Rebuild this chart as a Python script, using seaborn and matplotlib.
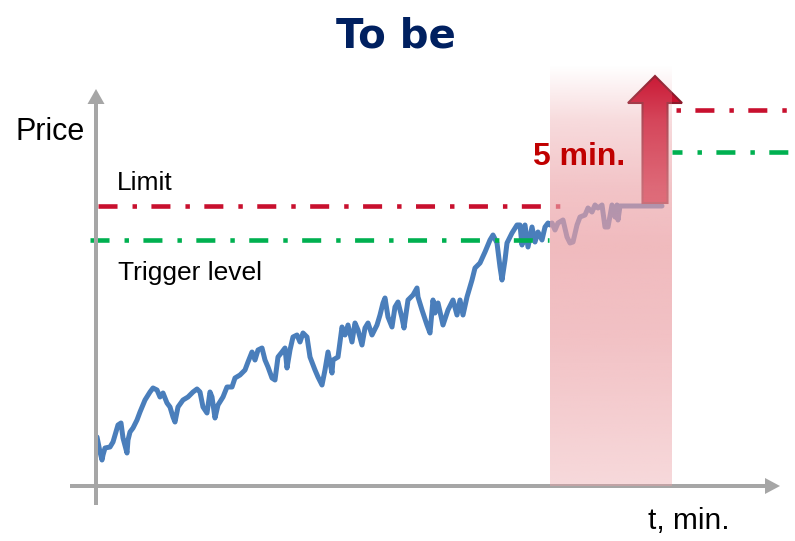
import numpy as np
import pandas as pd
import matplotlib
matplotlib.use("Agg")
import matplotlib.pyplot as plt
import seaborn as sns
from matplotlib.patches import FancyArrow

# ---- data (time in chart units, price in chart units above the time axis) ----
time_pts = [97, 100, 102, 103, 105, 110, 113, 118, 121, 123, 127, 128, 130, 133, 137, 140,
            145, 150, 153, 157, 160, 163, 167, 170, 173, 175, 178, 183, 188, 193, 197, 200,
            203, 207, 210, 212, 215, 218, 223, 227, 232, 235, 240, 245, 248, 252, 255, 258,
            262, 265, 268, 272, 275, 278, 282, 285, 287, 290, 293, 297, 300, 303, 307, 310,
            315, 318, 322, 325, 328, 332, 333, 338, 342, 345, 348, 352, 355, 358, 362, 365,
            368, 372, 377, 380, 383, 385, 388, 392, 395, 398, 402, 404, 408, 413, 417, 418,
            422, 427, 430, 433, 435, 438, 443, 448, 453, 457, 460, 463, 467, 472, 475, 480,
            485, 490, 493, 497, 500, 502, 505, 507, 512, 517, 520, 522, 525, 528, 532, 535,
            538, 542, 545, 548, 550, 552, 555, 558, 563, 567, 570, 573, 577, 580, 585, 588,
            592, 595, 598, 602, 605, 608, 612, 615, 617, 618, 620, 662]
price_pts = [49, 34, 26, 31, 38, 39, 44, 61, 63, 48, 33, 46, 54, 58, 66, 74,
             86, 94, 98, 96, 89, 93, 83, 79, 69, 64, 79, 86, 89, 94, 97, 94,
             79, 73, 94, 89, 68, 81, 89, 99, 99, 108, 111, 116, 124, 134, 126, 136,
             138, 126, 119, 108, 106, 129, 134, 138, 118, 136, 149, 151, 144, 153, 149, 129,
             116, 109, 101, 116, 134, 113, 126, 129, 159, 151, 161, 144, 163, 156, 141, 158,
             163, 151, 161, 171, 183, 188, 169, 159, 179, 184, 168, 158, 186, 191, 198, 189,
             176, 161, 153, 186, 173, 183, 161, 176, 186, 171, 186, 171, 189, 206, 218, 223,
             234, 246, 251, 243, 219, 206, 226, 243, 253, 261, 261, 241, 261, 239, 259, 244,
             254, 246, 259, 263, 261, 263, 256, 263, 266, 249, 243, 244, 261, 269, 271, 278,
             274, 281, 278, 281, 259, 259, 281, 269, 281, 266, 280, 280]

limit_level = 280
trigger_level = 246
new_limit_level = 376
new_trigger_level = 334
window_start, window_end = 550, 672   # the 5-minute window

title_text = "To be"
y_label = "Price"
x_label = "t, min."
limit_label = "Limit"
trigger_label = "Trigger level"
window_label = "5 min."

# ---- style ----
sns.set_theme(style="white")
plt.rcParams['font.family'] = ['Liberation Sans', 'DejaVu Sans']
plt.rcParams['lines.scale_dashes'] = False

BLUE = '#4A7EBB'
RED = '#C8102E'
GREEN = '#00B050'
GREY = '#A6A6A6'
pattern = (13.7, 10.8, 3.2, 10.4)

fig = plt.figure(figsize=(7.95, 5.41), dpi=100)
ax = fig.add_axes([0, 0, 1, 1])

df = pd.DataFrame({'t': time_pts, 'price': price_pts})
sns.lineplot(data=df, x='t', y='price', ax=ax, color=BLUE, linewidth=3.6,
             sort=False, estimator=None, zorder=2)

# level lines
ax.plot([98, 560], [limit_level] * 2, color=RED, lw=3.3, linestyle=(0, pattern), zorder=3)
ax.plot([90, 549], [trigger_level] * 2, color=GREEN, lw=3.3, linestyle=(0, pattern), zorder=3)
ax.plot([676, 795], [new_limit_level] * 2, color=RED, lw=3.3, linestyle=(24.5, pattern), zorder=3)
ax.plot([672, 795], [new_trigger_level] * 2, color=GREEN, lw=3.3, linestyle=(6.5, pattern), zorder=3)

# axis arrows
ax.add_patch(FancyArrow(96, -19, 0, 416, width=4, head_width=17, head_length=15,
                        length_includes_head=True, color=GREY, lw=0, zorder=4))
ax.add_patch(FancyArrow(70, 0, 710, 0, width=4, head_width=16, head_length=15,
                        length_includes_head=True, color=GREY, lw=0, zorder=4))

# big red arrow
ax.add_patch(FancyArrow(655, 283, 0, 127, width=25, head_width=54, head_length=27,
                        length_includes_head=True, fc=RED, ec='#8B1A2B', lw=1.5, zorder=4))

# shaded window (gradient)
top = 421
p = np.linspace(0, top, 300)
alpha = np.interp(p, [0, 150, 240, 300, 366, 395, top],
                  [0.40, 0.65, 0.72, 0.62, 0.38, 0.18, 0.0])
img = np.zeros((len(p), 1, 4))
img[:, 0, 0] = 235 / 255
img[:, 0, 1] = 160 / 255
img[:, 0, 2] = 165 / 255
img[:, 0, 3] = alpha
ax.imshow(img, extent=[window_start, window_end, 0, top], origin='lower',
          aspect='auto', interpolation='bilinear', zorder=5)

# texts
ax.text(396, 438, title_text, ha='center', va='baseline', fontsize=29,
        fontweight='bold', color='#002060', family=['DejaVu Sans'])
ax.text(15, 346, y_label, fontsize=22, color='black', va='baseline')
ax.text(117, 296, limit_label, fontsize=19, color='black', va='baseline')
ax.text(118, 206, trigger_label, fontsize=19, color='black', va='baseline')
ax.text(648, -43, x_label, fontsize=21.5, color='black', va='baseline')
ax.text(533, 321, window_label, fontsize=23, fontweight='bold', color='#C00000',
        va='baseline', zorder=6)

ax.set_xlim(0, 795)
ax.set_ylim(-55, 486)
ax.axis('off')

fig.savefig('out.png', dpi=100, facecolor='white')
